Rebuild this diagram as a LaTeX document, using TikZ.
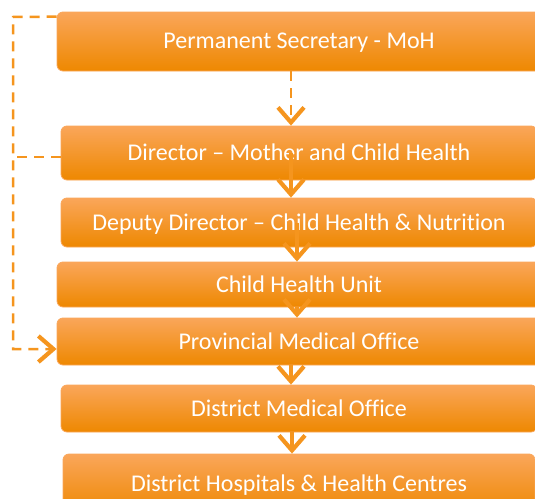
\documentclass[tikz,border=0pt]{standalone}
\usepackage{fontspec}
\setmainfont[Ligatures=NoCommon]{Carlito}
\usetikzlibrary{arrows.meta}

\definecolor{orgtop}{HTML}{FAA65A}
\definecolor{orgmid}{HTML}{F89406}
\definecolor{orgbot}{HTML}{EE8800}
\definecolor{orgline}{HTML}{F5951E}

\tikzset{
  unit/.style={rectangle, rounded corners=6pt, draw=orgtop, line width=0.8pt,
    top color=orgtop, middle color=orgmid, bottom color=orgbot,
    text=white, font=\fontsize{24}{27}\selectfont, inner sep=0pt,
    text depth=1pt},
  report/.style={draw=orgline, line width=3.5pt,
    -{Straight Barb[length=15pt,width=26pt,line width=4.2pt]}},
  liaise/.style={report, dash pattern=on 10pt off 7pt, line width=2.5pt}
}

\begin{document}
\begin{tikzpicture}[x=1pt, y=-1pt]
  \useasboundingbox (0,0) rectangle (535,498);
  \clip (0,0) rectangle (535,498);
  %% the chain of offices
  \node[unit, minimum width=484, minimum height=59] (ps)   at (299,41.5)  {Permanent Secretary - MoH};
  \node[unit, minimum width=476, minimum height=54] (dir)  at (299,153)   {Director -- Mother and Child Health};
  \node[unit, minimum width=476, minimum height=49] (dep)  at (299,222.5) {Deputy Director -- Child Health \& Nutrition};
  \node[unit, minimum width=484, minimum height=45] (chu)  at (299,284.5) {Child Health Unit};
  \node[unit, minimum width=484, minimum height=47] (pmo)  at (299,341.5) {Provincial Medical Office};
  \node[unit, minimum width=476, minimum height=47] (dmo)  at (299,408.5) {District Medical Office};
  \node[unit, minimum width=472, minimum height=60] (dhc)  at (299,484)   {District Hospitals \& Health Centres};
  %% reporting lines
  \draw[liaise] ([xshift=-8]ps.south) -- ([xshift=-8]dir.north);
  \draw[report] ([xshift=-8]dir.center) -- ([xshift=-8]dep.north);
  \draw[report] ([xshift=-2]dep.center) -- ([xshift=-2]chu.north);
  \draw[report] ([xshift=-2]chu.south) -- ([xshift=-2]pmo.north);
  \draw[report] ([xshift=-8]pmo.south) -- ([xshift=-8]dmo.north);
  \draw[report] ([xshift=-7]dmo.south) -- ([xshift=-7]dhc.north);
  %% direct line down the left side
  \coordinate (top) at (13,17);
  \coordinate (bend) at (13,349);
  \draw[liaise] ([yshift=-5]ps.north west) -- (top) -- (bend) -- (bend -| pmo.west);
  \draw[liaise, -] ([yshift=-4]dir.west) -- ([yshift=-4]dir.west -| top);
\end{tikzpicture}
\end{document}
